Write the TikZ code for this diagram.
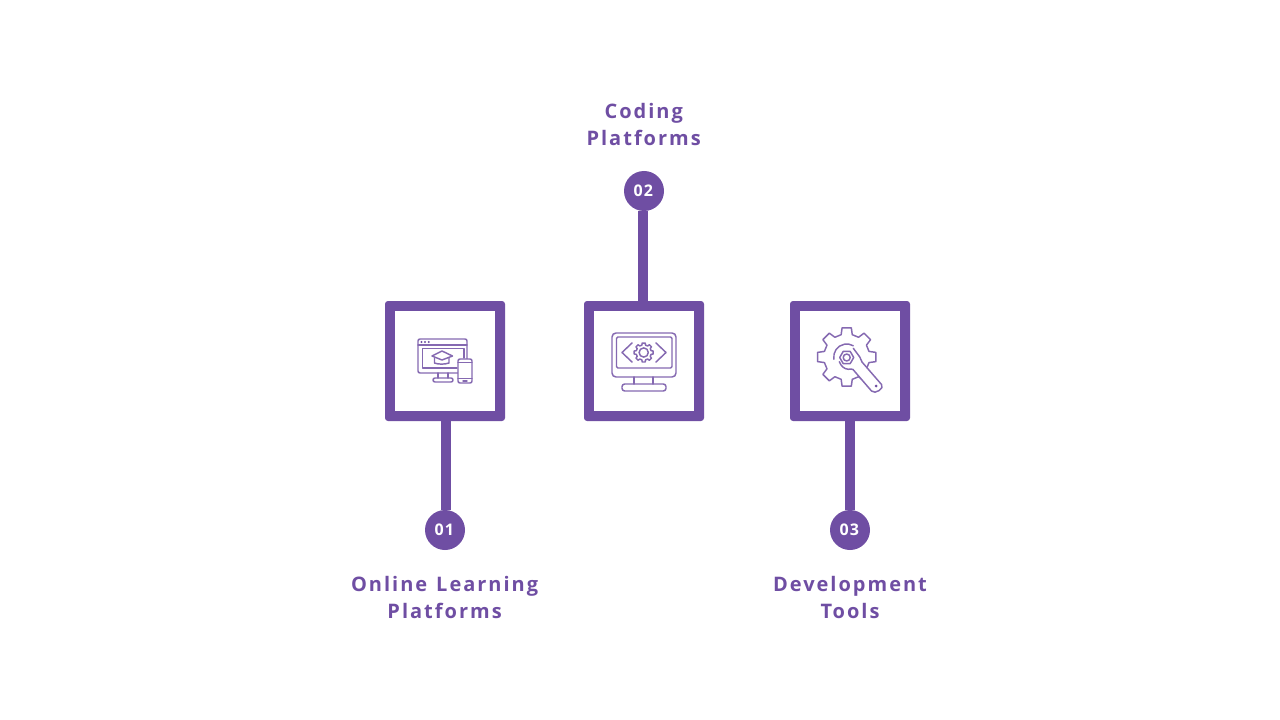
\documentclass[tikz,border=0pt]{standalone}
\usepackage{fontspec}
\setmainfont{Open Sans}
\newfontfamily\titlefont[LetterSpace=10,WordSpace=1.25]{Open Sans}
\newfontfamily\numfont[LetterSpace=7]{Open Sans}
\definecolor{plumish}{RGB}{111,78,163}
\tikzset{every picture/.style={line width=0.75pt}}
\tikzset{
	boxframe/.style={rectangle,fill=plumish,rounded corners=2.25pt,minimum size=90pt,inner sep=0pt,outer sep=0pt},
	boxinner/.style={rectangle,fill=white,minimum size=75pt,inner sep=0pt,outer sep=0pt},
	stemline/.style={draw=plumish,line width=7.5pt},
	numdot/.style={circle,fill=plumish,text=white,minimum size=30pt,inner sep=0pt,outer sep=0pt,font=\numfont\bfseries\fontsize{12}{14}\selectfont},
	titletext/.style={text=plumish,align=center,font=\titlefont\bfseries\fontsize{15}{20.25}\selectfont},
	iconline/.style={draw=plumish!85,line width=1.1pt,line join=round,line cap=round}}

\begin{document}
\begin{tikzpicture}[x=0.75pt,y=0.75pt,yscale=-1]
	\useasboundingbox (0,0) rectangle (1280,720);

	% Number Nodes
	\node[numdot] (num1) at (445,530) {\raisebox{-1pt}{01\kern1pt}};
	\node[numdot] (num2) at (644,191) {\raisebox{-1pt}{02\kern1pt}};
	\node[numdot] (num3) at (850,530) {\raisebox{-1pt}{03\kern1pt}};
	% Box Nodes
	\node[boxframe] (box1) at (445,361) {};
	\node[boxframe] (box2) at (644,361) {};
	\node[boxframe] (box3) at (850,361) {};
	\node[boxinner] (inner1) at (box1) {};
	\node[boxinner] (inner2) at (box2) {};
	\node[boxinner] (inner3) at (box3) {};
	% Text Nodes
	\node[titletext] (title1) at (444.6,597.5) {Online Learning\\Platforms};
	\node[titletext] (title2) at (643.7,124.5) {Coding\\Platforms};
	\node[titletext] (title3) at (850,597.5) {Development\\Tools};

	%Straight Lines
	\draw[stemline] ([xshift=0.75pt]box1.south) -- ([xshift=0.75pt]num1.north);
	\draw[stemline] ([xshift=-0.75pt]box2.north) -- ([xshift=-0.75pt]num2.south);
	\draw[stemline] (box3.south) -- (num3.north);

	%Shape: Monitor with phone
	\draw[iconline,rounded corners=1.5pt] (418,339) rectangle (467,373);
	\draw[iconline] (418,345) -- (467,345);
	\draw[iconline] (457,368) -- (422.5,368) -- (422.5,348.5) -- (464,348.5) -- (464,358);
	\foreach \dotx in {421.5,425,428.7}
		\fill[plumish] (\dotx,342) circle (1.1);
	\draw[iconline] (438,373) -- (438,378) (448,373) -- (448,378);
	\draw[iconline,rounded corners=1.5pt] (433,378) rectangle (453,382);
	\draw[iconline,fill=white,rounded corners=1.5pt] (458,359) rectangle (472,383);
	\draw[iconline] (458,362.5) -- (472,362.5) (458,378.5) -- (472,378.5) (463,381) -- (467,381);
	\draw[iconline] (432,356) -- (442,351) -- (452.5,356) -- (442,360) -- cycle;
	\draw[iconline] (434.5,358) -- (434.5,363) .. controls (438,364.5) and (445,364.5) .. (449,363) -- (449,358);

	%Shape: Monitor with code
	\draw[iconline,rounded corners=3pt] (612,333) rectangle (676,377);
	\draw[iconline,rounded corners=1pt] (616.5,337) rectangle (672,368);
	\draw[iconline] (632,343) -- (622,352.5) -- (632,362);
	\draw[iconline] (656,343) -- (666,352.5) -- (656,362);
	\draw[iconline] (634,377) -- (634,384) (653,377) -- (653,384);
	\draw[iconline,rounded corners=2pt] (622,384) rectangle (666,391);
	\begin{scope}[shift={(643.7,352.5)}]
		\draw[iconline] (-14:7.6) \foreach \ang in {0,45,...,315} { -- (\ang-14:7.6) -- (\ang-9:9.6) -- (\ang+9:9.6) -- (\ang+14:7.6) } -- cycle;
		\draw[iconline] (0,0) circle (4.6);
	\end{scope}

	%Shape: Gear with wrench
	\begin{scope}[shift={(846.7,357)}]
		\draw[iconline] (-90-14:23) \foreach \ang in {-90,-45,...,225} { -- (\ang-14:23) -- (\ang-9:29.5) -- (\ang+9:29.5) -- (\ang+14:23) } -- cycle;
		\draw[iconline] (170:13) arc (170:300:13);
	\end{scope}
	\draw[iconline,fill=white] (839.3,361.7) .. controls (841,366) and (844,369) .. (848.3,369.3) .. controls (850,369.3) and (852,368.5) .. (853,369.5) -- (871.5,391) .. controls (875,395) and (885,388) .. (881.5,384.5) -- (862,362) .. controls (860.5,360) and (861,358) .. (858.3,355) -- (853.3,348.3);
	\begin{scope}[shift={(846.7,357.5)}]
		\draw[iconline] (0:7) -- (60:7) -- (120:7) -- (180:7) -- (240:7) -- (300:7) -- cycle;
		\draw[iconline] (0,0) circle (3.5);
	\end{scope}
	\fill[plumish] (876,386) circle (1.5);
\end{tikzpicture}
\end{document}
